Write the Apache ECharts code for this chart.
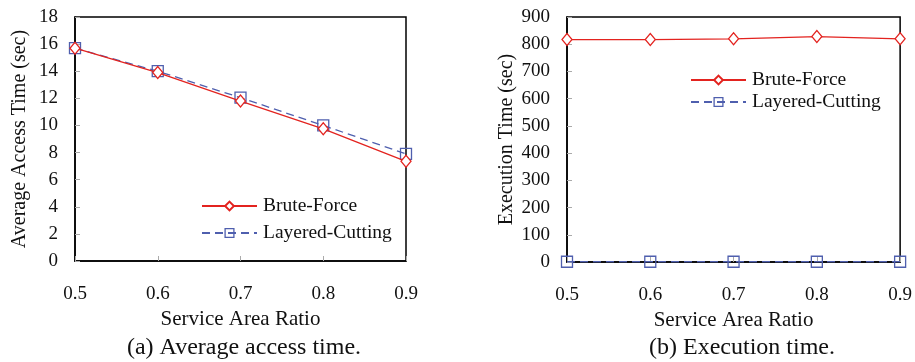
<!DOCTYPE html>
<html>
<head>
<meta charset="utf-8">
<script src="https://cdn.jsdelivr.net/npm/echarts@6/dist/echarts.min.js"></script>
<style>
  html, body { margin: 0; padding: 0; background: #fff; }
  #main { width: 915px; height: 362px; }
</style>
</head>
<body>
<div id="main"></div>
<script>
// service area ratio on the x axis
const ratios = [0.5, 0.6, 0.7, 0.8, 0.9];
// (a) average access time (sec)
const accessBrute = [15.7, 13.9, 11.8, 9.75, 7.35];
const accessLayered = [15.7, 14.0, 12.05, 10.0, 7.9];
// (b) execution time (sec)
const execBrute = [817, 817, 820, 828, 820];
const execLayered = [1, 1, 1, 1, 1];

const FONT = 'Liberation Serif';
const RED = '#e3231f';
const BLUE = '#4f5fae';

const pair = (ys) => ratios.map((x, i) => [x, ys[i]]);

function xAxisOf(gi) {
    return {
        gridIndex: gi, type: 'value', min: 0.5, max: 0.9, interval: 0.1,
        name: 'Service Area Ratio', nameLocation: 'middle', nameGap: 45,
        nameTextStyle: { fontFamily: FONT, fontSize: 21, color: '#111' },
        axisLine: { lineStyle: { color: '#000', width: 1.5 } },
        axisTick: { inside: true, length: 5, lineStyle: { color: '#aaa' } },
        axisLabel: { fontFamily: FONT, fontSize: 19, color: '#111', margin: 24,
            formatter: (v) => v.toFixed(1) },
        splitLine: { show: false }
    };
}
function yAxisOf(gi, name, max, step, gap) {
    return {
        gridIndex: gi, type: 'value', min: 0, max: max, interval: step,
        name: name, nameLocation: 'middle', nameGap: gap,
        nameTextStyle: { fontFamily: FONT, fontSize: 20, color: '#111' },
        axisLine: { show: true, lineStyle: { color: '#000', width: 1.5 } },
        axisTick: { inside: true, length: 5, lineStyle: { color: '#aaa' } },
        axisLabel: { fontFamily: FONT, fontSize: 19, color: '#111', margin: 17 },
        splitLine: { show: false }
    };
}
function brute(gi, ys) {
    return {
        name: 'Brute-Force', type: 'line', xAxisIndex: gi, yAxisIndex: gi,
        data: pair(ys), symbol: 'diamond', symbolSize: [10, 12],
        lineStyle: { color: RED, width: 1.3 },
        itemStyle: { color: '#fff', borderColor: RED, borderWidth: 1.3 },
        emphasis: { disabled: true }, z: 3
    };
}
function layered(gi, ys) {
    return {
        name: 'Layered-Cutting', type: 'line', xAxisIndex: gi, yAxisIndex: gi,
        data: pair(ys), symbol: 'rect', symbolSize: 11,
        lineStyle: { color: BLUE, width: 1.3, type: [8, 5] },
        itemStyle: { color: 'rgba(255,255,255,0)', borderColor: BLUE, borderWidth: 1.3 },
        emphasis: { disabled: true }, z: 2
    };
}
function legendAt(left, top, gap) {
    return {
        left: left, top: top, orient: 'vertical', itemGap: gap,
        itemWidth: 55, itemHeight: 11,
        textStyle: { fontFamily: FONT, fontSize: 19.5, color: '#111', padding: [0, 0, 0, 1] },
        data: [
            'Brute-Force',
            { name: 'Layered-Cutting',
              itemStyle: { color: 'rgba(255,255,255,0)', borderColor: BLUE, borderWidth: 1.3 } }
        ]
    };
}

const chart = echarts.init(document.getElementById('main'));
chart.setOption({
    animation: false,
    backgroundColor: '#fff',
    title: [
        { text: '(a) Average access time.', left: 239, top: 331, textAlign: 'center',
          textStyle: { fontFamily: FONT, fontSize: 24, fontWeight: 'normal', color: '#111' } },
        { text: '(b) Execution time.', left: 737, top: 331, textAlign: 'center',
          textStyle: { fontFamily: FONT, fontSize: 24, fontWeight: 'normal', color: '#111' } }
    ],
    legend: [legendAt(196, 191, 7), legendAt(685, 65, 2)],
    grid: [
        { left: 75, right: 509, top: 17, bottom: 101, show: true, borderColor: '#000', borderWidth: 1.5 },
        { left: 567, right: 14, top: 17, bottom: 100, show: true, borderColor: '#000', borderWidth: 1.5 }
    ],
    xAxis: [xAxisOf(0), xAxisOf(1)],
    yAxis: [
        yAxisOf(0, 'Average Access Time (sec)', 18, 2, 45),
        yAxisOf(1, 'Execution Time (sec)', 900, 100, 50)
    ],
    series: [
        brute(0, accessBrute), layered(0, accessLayered),
        brute(1, execBrute), layered(1, execLayered)
    ]
});
</script>
</body>
</html>
